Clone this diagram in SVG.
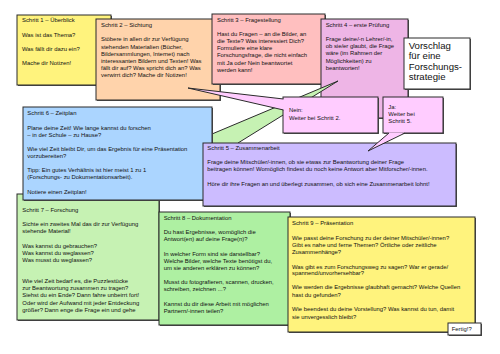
<svg xmlns="http://www.w3.org/2000/svg" width="500" height="354" viewBox="0 0 500 354">
<style>
.b{stroke:#2b2b2b;stroke-width:1}
.sh{fill:#555}
text{font-family:"Liberation Sans",Arial,sans-serif;font-size:5.9px;fill:#111}
.t{font-size:9.6px}
.y{fill:#fff37d}
.p{fill:#ffd3ab}
.r{fill:#ffbfbf}
.m{fill:#eeb5e6}
.k{fill:#ffccff}
.v{fill:#ccbcff}
.bl{fill:#abd5ff}
.g1{fill:#c6f2b3}
.g2{fill:#aef0a2}
.w{fill:#ffffff}
.ln{fill:none;stroke:#2b2b2b;stroke-width:1}
</style>
<rect width="500" height="354" fill="#ffffff"/>

<g id="step1">
<rect class="sh" x="18" y="16" width="94" height="70"/>
<rect class="b y" x="17" y="15" width="94" height="70"/>
<text x="22" y="22.3">Schritt 1 – Überblick</text>
<text x="22" y="36.5">Was ist das Thema?</text>
<text x="22" y="50.8">Was fällt dir dazu ein?</text>
<text x="22" y="65">Mache dir Notizen!</text>
</g>

<g id="step2">
<rect class="sh" x="97" y="20" width="124" height="81"/>
<rect class="b p" x="96" y="19" width="124" height="81"/>
<text x="101" y="27">Schritt 2 – Sichtung</text>
<text x="101" y="41.3">Stöbere in allen dir zur Verfügung</text>
<text x="101" y="48.5">stehenden Materialien (Bücher,</text>
<text x="101" y="55.7">Bildersammlungen, Internet) nach</text>
<text x="101" y="63">interessanten Bildern und Texten! Was</text>
<text x="101" y="70.2">fällt dir auf? Was spricht dich an? Was</text>
<text x="101" y="77.4">verwirrt dich? Mache dir Notizen!</text>
</g>

<g id="step3">
<rect class="sh" x="213" y="15" width="113" height="70"/>
<rect class="b r" x="212" y="14" width="113" height="70"/>
<text x="217" y="21.7">Schritt 3 – Fragestellung</text>
<text x="217" y="36">Hast du Fragen – an die Bilder, an</text>
<text x="217" y="43">die Texte? Was interessiert Dich?</text>
<text x="217" y="50.3">Formuliere eine klare</text>
<text x="217" y="57.3">Forschungsfrage, die nicht einfach</text>
<text x="217" y="64.7">mit Ja oder Nein beantwortet</text>
<text x="217" y="71.7">werden kann!</text>
</g>

<g id="step4">
<rect class="sh" x="322" y="20" width="87" height="99"/>
<rect class="b m" x="321" y="19" width="87" height="99"/>
<text x="325.7" y="26.7">Schritt 4 – erste Prüfung</text>
<text x="325.7" y="41.3">Frage deine/-n Lehrer/-in,</text>
<text x="325.7" y="48.3">ob sie/er glaubt, die Frage</text>
<text x="325.7" y="55.3">wäre (im Rahmen der</text>
<text x="325.7" y="62.7">Möglichkeiten) zu</text>
<text x="325.7" y="69.7">beantworten!</text>
</g>

<g id="title">
<rect class="sh" x="405" y="39" width="66" height="51"/>
<rect class="b w" x="404" y="38" width="66" height="51"/>
<text class="t" x="408.7" y="49">Vorschlag</text>
<text class="t" x="408.7" y="59.3">für eine</text>
<text class="t" x="408.7" y="69.5">Forschungs-</text>
<text class="t" x="408.7" y="79.7">strategie</text>
</g>

<g id="connectors">
<polygon class="g1" points="338,81 55,200 138,205"/>
<polyline class="ln" points="212,134 338,81 238,143"/>
</g>

<g id="step7">
<rect class="sh" x="18" y="195" width="142" height="126"/>
<rect class="b g1" x="17" y="194" width="142" height="126"/>
<text x="22.3" y="212">Schritt 7 – Forschung</text>
<text x="22.3" y="226.3">Sichte ein zweites Mal das dir zur Verfügung</text>
<text x="22.3" y="233.3">stehende Material!</text>
<text x="22.3" y="247.7">Was kannst du gebrauchen?</text>
<text x="22.3" y="254.7">Was kannst du weglassen?</text>
<text x="22.3" y="262">Was musst du weglassen?</text>
<text x="22.3" y="283">Wie viel Zeit bedarf es, die Puzzlestücke</text>
<text x="22.3" y="290.3">zur Beantwortung zusammen zu tragen?</text>
<text x="22.3" y="297.3">Siehst du ein Ende? Dann fahre unbeirrt fort!</text>
<text x="22.3" y="304.7">Oder wird der Aufwand mit jeder Entdeckung</text>
<text x="22.3" y="312">größer? Dann enge die Frage ein und gehe</text>
</g>

<g id="nein">
<rect class="sh" x="284" y="98" width="95" height="36"/>
<rect class="b k" x="283" y="97" width="95" height="36"/>
<polygon class="k" points="188,88 284,99 284,110"/>
<polyline class="ln" points="283.5,99 188,88 283.5,110"/>
<text x="289" y="112.3">Nein:</text>
<text x="289" y="119.7">Weiter bei Schritt 2.</text>
</g>

<g id="ja">
<rect class="sh" x="384" y="98" width="60" height="36"/>
<rect class="b k" x="383" y="97" width="60" height="36"/>
<text x="388.3" y="109">Ja:</text>
<text x="388.3" y="116.3">Weiter bei</text>
<text x="388.3" y="123.3">Schritt 5.</text>
</g>

<g id="step6">
<rect class="sh" x="24" y="108" width="189" height="93"/>
<rect class="b bl" x="23" y="107" width="189" height="93"/>
<text x="27.3" y="115.3">Schritt 6 – Zeitplan</text>
<text x="27.3" y="129.7">Plane deine Zeit! Wie lange kannst du forschen</text>
<text x="27.3" y="136.7">– in der Schule – zu Hause?</text>
<text x="27.3" y="151">Wie viel Zeit bleibt Dir, um das Ergebnis für eine Präsentation</text>
<text x="27.3" y="158">vorzubereiten?</text>
<text x="27.3" y="172.3">Tipp: Ein gutes Verhältnis ist hier meist 1 zu 1</text>
<text x="27.3" y="179.3">(Forschungs- zu Dokumentationsarbeit).</text>
<text x="27.3" y="193.7">Notiere einen Zeitplan!</text>
</g>

<g id="step5">
<rect class="sh" x="204" y="144" width="253" height="63"/>
<rect class="b v" x="203" y="143" width="253" height="63"/>
<text x="207.3" y="150">Schritt 5 – Zusammenarbeit</text>
<text x="207.3" y="164.3">Frage deine Mitschüler/-innen, ob sie etwas zur Beantwortung deiner Frage</text>
<text x="207.3" y="171.3">beitragen können! Womöglich findest du noch keine Antwort aber Mitforscher/-innen.</text>
<text x="207.3" y="185.7">Höre dir ihre Fragen an und überlegt zusammen, ob sich eine Zusammenarbeit lohnt!</text>
</g>

<g id="ja-tail">
<polygon class="k" points="389,132.5 405,132.5 368,151"/>
<polyline class="ln" points="389,133 368,151 405,133"/>
</g>

<g id="step8">
<rect class="sh" x="160" y="213" width="131" height="113"/>
<rect class="b g2" x="159" y="212" width="131" height="113"/>
<text x="163.7" y="220.3">Schritt 8 – Dokumentation</text>
<text x="163.7" y="234.3">Du hast Ergebnisse, womöglich die</text>
<text x="163.7" y="241.3">Antwort(en) auf deine Frage(n)?</text>
<text x="163.7" y="256">In welcher Form sind sie darstellbar?</text>
<text x="163.7" y="263">Welche Bilder, welche Texte benötigst du,</text>
<text x="163.7" y="270">um sie anderen erklären zu können?</text>
<text x="163.7" y="284.3">Musst du fotografieren, scannen, drucken,</text>
<text x="163.7" y="291.3">schreiben, zeichnen ...?</text>
<text x="163.7" y="305.7">Kannst du dir diese Arbeit mit möglichen</text>
<text x="163.7" y="312.7">Partnern/-innen teilen?</text>
</g>

<g id="step9">
<rect class="sh" x="289" y="218" width="187" height="115"/>
<rect class="b y" x="288" y="217" width="187" height="115"/>
<text x="292" y="225.3">Schritt 9 – Präsentation</text>
<text x="292" y="239.7">Wie passt deine Forschung zu der deiner Mitschüler/-innen?</text>
<text x="292" y="247">Gibt es nahe und ferne Themen? Örtliche oder zeitliche</text>
<text x="292" y="254.3">Zusammenhänge?</text>
<text x="292" y="268.7">Was gibt es zum Forschungsweg zu sagen? War er gerade/</text>
<text x="292" y="275.3">spannend/unvorhersehbar?</text>
<text x="292" y="289.3">Wie werden die Ergebnisse glaubhaft gemacht? Welche Quellen</text>
<text x="292" y="296.7">hast du gefunden?</text>
<text x="292" y="311.3">Wie beendest du deine Vorstellung? Was kannst du tun, damit</text>
<text x="292" y="318.7">sie unvergesslich bleibt?</text>
</g>

<g id="fertig">
<rect class="sh" x="449" y="324" width="33" height="12"/>
<rect class="b w" x="448" y="323" width="33" height="12"/>
<text x="451.7" y="330.8">Fertig!?</text>
</g>
</svg>
